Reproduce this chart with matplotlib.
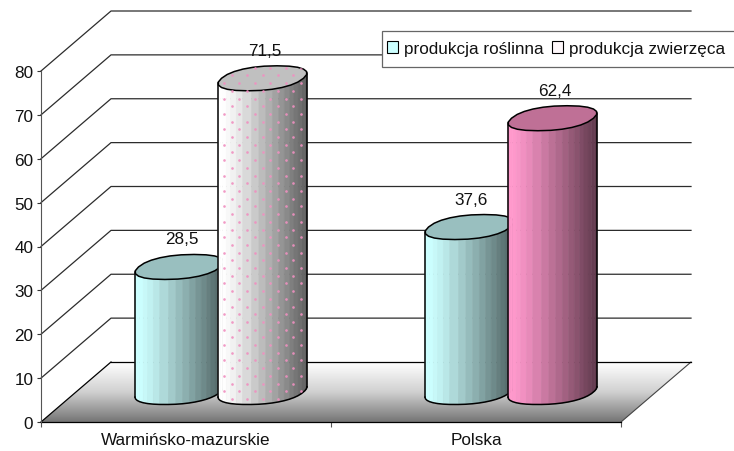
import numpy as np
import matplotlib
matplotlib.use('Agg')
import matplotlib.pyplot as plt
from matplotlib.colors import LinearSegmentedColormap, to_rgb
from matplotlib.patches import Patch, Polygon, Rectangle

# data
categories = ['Warmińsko-mazurskie', 'Polska']
series_names = ['produkcja roślinna', 'produkcja zwierzęca']
roslinna = [28.5, 37.6]
zwierzeca = [71.5, 62.4]
value_labels = [['28,5', '37,6'], ['71,5', '62,4']]
y_ticks = [0, 10, 20, 30, 40, 50, 60, 70, 80]

plt.rcParams['font.family'] = ['Liberation Sans', 'DejaVu Sans']
plt.rcParams['font.size'] = 12.3

W, H = 734, 452
fig = plt.figure(figsize=(W / 100, H / 100), dpi=100, facecolor='white')
ax = fig.add_axes([41 / W, (H - 423) / H, 580 / W, 351 / H])
ax.set_xlim(0, 2)
ax.set_ylim(0, 80)
ax.patch.set_visible(False)

# one pixel in data units, the 3d look is just a shear
PX = 2 / 580
PY = 80 / 351
DX = 70 * PX
DY = 60 * PY
GRID = '#2c2c2c'

# walls
for v in y_ticks[1:]:
    ax.plot([0, DX, 2 + DX], [v, v + DY, v + DY], color=GRID, lw=0.9, clip_on=False, zorder=1)

# floor with gradient
floor = Polygon([(0, 0), (2, 0), (2 + DX, DY), (DX, DY)], closed=True, transform=ax.transData,
                facecolor='none', edgecolor='none')
ax.add_patch(floor)
cmap = LinearSegmentedColormap.from_list('floor', ['#ffffff', '#d0d0d0', '#767676'])
im = ax.imshow(np.linspace(0, 1, 64).reshape(-1, 1), extent=[0, 2 + DX, 0, DY], cmap=cmap,
               aspect='auto', origin='upper', zorder=1.5)
im.set_clip_path(floor)
im.set_clip_box(fig.bbox)
ax.set_xlim(0, 2)
ax.set_ylim(0, 80)
ax.plot([2, 2 + DX], [0, DY], color='#444444', lw=0.8, clip_on=False, zorder=1.6)
ax.plot([DX, 2 + DX], [DY, DY], color='black', lw=0.9, clip_on=False, zorder=1.6)
ax.plot([0, DX], [0, DY], color='black', lw=0.9, clip_on=False, zorder=1.6)
ax.plot([0, 2], [0, 0], color='black', lw=0.9, clip_on=False, zorder=1.6)

RX = 41 * PX
DVX = 14.6 * PX
DVY = 12.5 * PY
POW = 0.88  # a bit squarer than an ellipse, like the original facets


def ring(cx, cy, t):
    c = np.sign(np.cos(t)) * np.abs(np.cos(t)) ** POW
    s = np.sign(np.sin(t)) * np.abs(np.sin(t)) ** POW
    return cx + RX * c + DVX * s, cy + DVY * s


def cylinder(cx, value, label, side, top, z, dots=None):
    """One faceted cylinder standing in the middle of the floor depth."""
    cx = cx + DX / 2
    cy0 = DY / 2
    cy1 = cy0 + value
    tt = np.linspace(0, 2 * np.pi, 721)
    xr, _ = ring(cx, cy0, tt)
    t_r = tt[np.argmax(xr)]
    t_l = tt[np.argmin(xr)]
    ts = np.linspace(t_l, t_r + 2 * np.pi, 21)
    light = np.array(to_rgb(side))
    xmin, xmax = xr.min(), xr.max()
    for i in range(len(ts) - 1):
        x0, y0 = ring(cx, cy0, ts[i])
        x1, y1 = ring(cx, cy0, ts[i + 1])
        pos = ((x0 + x1) / 2 - xmin) / (xmax - xmin)
        col = light * (1.0 - 0.68 * max(pos - 0.06, 0) ** 1.15)
        ax.fill([x0, x1, x1, x0], [y0, y1, y1 + value, y0 + value], color=col, lw=0.4,
                clip_on=False, zorder=z)
    ta = np.linspace(0, 2 * np.pi, 25)
    xt, yt = ring(cx, cy1, ta)
    ax.fill(xt, yt, facecolor=top, edgecolor='black', lw=1.1, clip_on=False, zorder=z + 0.2)
    xb, yb = ring(cx, cy0, ts)
    xl, yl = ring(cx, cy1, ts)
    ax.plot([xl[0], xb[0]], [yl[0], yb[0]], color='black', lw=1.1, clip_on=False, zorder=z + 0.2)
    ax.plot([xl[-1], xb[-1]], [yl[-1], yb[-1]], color='black', lw=1.1, clip_on=False, zorder=z + 0.2)
    ax.plot(xb, yb, color='black', lw=1.1, clip_on=False, zorder=z + 0.2)
    if dots:
        back = np.linspace(t_r, t_l, 40)
        outline = np.vstack([np.column_stack(ring(cx, cy0, ts)),
                             np.column_stack(ring(cx, cy1, back))])
        shape = Polygon(outline, closed=True, transform=ax.transData, facecolor='none', edgecolor='none')
        ax.add_patch(shape)
        gx = np.arange(-8, 9) * 7.7 * PX + cx
        gy = np.arange(-3, 60) * 7.7 * PY
        xx, yy = np.meshgrid(gx, gy)
        keep = (np.add.outer(np.arange(len(gy)), np.arange(len(gx))) % 2) == 0
        sc = ax.scatter(xx[keep], yy[keep], s=3.6, color=dots, linewidths=0, alpha=0.9, zorder=z + 0.3)
        sc.set_clip_path(shape)
        sc.set_clip_box(fig.bbox)
    ax.annotate(label, (cx, cy1 + DVY), xytext=(2, 8), textcoords='offset pixels',
                ha='center', va='bottom', color='#111111', zorder=8, annotation_clip=False)


OFFSET = 41.5 * PX
grey_dots = '#f090c0'
for i in range(2):
    cylinder(i + 0.5 - OFFSET, roslinna[i], value_labels[0][i], '#ccffff', '#99bfbf', 3 + i)
    if i == 0:
        cylinder(i + 0.5 + OFFSET, zwierzeca[i], value_labels[1][i], '#ffffff', '#c0c0c0', 3.5 + i, dots=grey_dots)
    else:
        cylinder(i + 0.5 + OFFSET, zwierzeca[i], value_labels[1][i], '#ff99cc', '#bf7096', 3.5 + i)

# axes
for s in ['top', 'right', 'bottom']:
    ax.spines[s].set_visible(False)
ax.spines['left'].set_color('#555555')
ax.spines['left'].set_linewidth(0.8)
ax.set_yticks(y_ticks)
ax.tick_params(axis='y', length=2.9, width=0.8, color='#333333', pad=2.6, labelcolor='#111111')
ax.set_xticks([0, 1, 2])
ax.set_xticklabels([])
ax.tick_params(axis='x', which='major', length=3.6, width=0.8, color='#555555')
ax.set_xticks([0.5, 1.5], minor=True)
ax.set_xticklabels(categories, minor=True, color='#111111')
ax.tick_params(axis='x', which='minor', length=0, pad=7)

# legend box runs off the right edge in the original
fig.add_artist(Rectangle((382 / W, 1 - 68 / H), 360 / W, 36 / H, transform=fig.transFigure,
                         facecolor='white', edgecolor='#666666', lw=0.9, zorder=9))
handles = [Patch(facecolor='#ccffff', edgecolor='black', lw=0.8, label=series_names[0]),
           Patch(facecolor='#fff8fb', edgecolor='black', lw=0.8, label=series_names[1])]
leg = fig.legend(handles=handles, ncol=2, loc='center left',
                 bbox_to_anchor=(378 / W, 1 - 49.5 / H), borderaxespad=0, frameon=False,
                 handlelength=0.62, handleheight=0.62, handletextpad=0.35, columnspacing=0.5,
                 borderpad=0.55, labelcolor='#111111')
leg.set_zorder(10)

fig.savefig('out.png', dpi=100)
